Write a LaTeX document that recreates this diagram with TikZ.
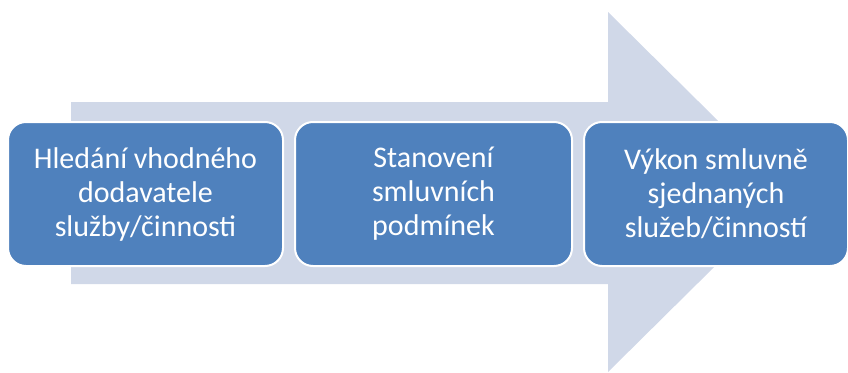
\documentclass[tikz,border=0pt]{standalone}
\usepackage{fontspec}
\setmainfont{Carlito}
\definecolor{stepblue}{HTML}{4F81BD}
\definecolor{arrowgrey}{HTML}{D0D8E8}
\tikzset{
  stepbox/.style={rectangle, rounded corners=18pt, fill=stepblue, draw=white,
    line width=2pt, minimum height=144pt, align=center, text=white,
    font=\fontsize{30}{34}\selectfont, inner sep=0pt}
}
\begin{document}
\begin{tikzpicture}[x=1pt,y=-1pt]
  \useasboundingbox (0,0) rectangle (848,372);
  % large background arrow
  \fill[arrowgrey] (71,102) -- (608,102) -- (608,12) -- (790,192)
    -- (608,372) -- (608,284) -- (71,284) -- cycle;
  % process steps
  \node[stepbox, minimum width=275pt] (s1) at (145.5,194)
    {Hledání vhodného\\dodavatele\\služby/činnosti};
  \node[stepbox, minimum width=277pt] (s2) at (433.5,194)
    {Stanovení\\smluvních\\podmínek};
  \node[stepbox, minimum width=264pt] (s3) at (716,194)
    {Výkon smluvně\\sjednaných\\služeb/činností};
\end{tikzpicture}
\end{document}
